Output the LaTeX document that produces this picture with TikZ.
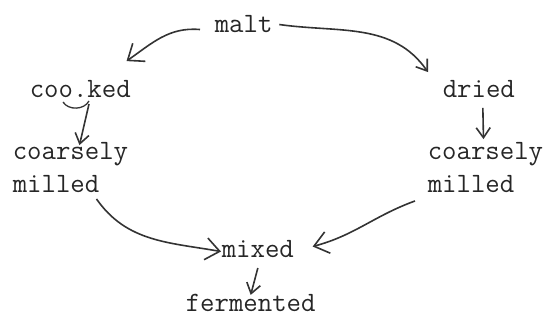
\documentclass[tikz,border=0pt]{standalone}
\usepackage{fontspec}
\usetikzlibrary{arrows.meta}
\tikzset{stage node/.style={font=\fontsize{28}{33}\selectfont\ttfamily,text=black!85,inner sep=2pt,anchor=base west},
	big tip/.style={-{Straight Barb[length=14pt,width=22pt]}},
}

\begin{document}
\begin{tikzpicture}[x=1pt,y=-1pt,line width=1.6pt,draw=black!80,>={Straight Barb[length=10pt,width=14pt]}]
	\useasboundingbox (0,0) rectangle (554,320);
	\node[stage node] (malt) at (212,33) {malt};
	\node[stage node] (cooked) at (27,98) {coo.ked};
	\node[stage node] (dried) at (440,98) {dried};
	\node[stage node,align=left] (millL) at (10,193) {coarsely\\milled};
	\node[stage node,align=left] (millR) at (425,193) {coarsely\\milled};
	\node[stage node] (mixed) at (219,258) {mixed};
	\node[stage node] (fermented) at (183,312) {fermented};
	
	% tie under coo.ked
	\draw[line width=1.3pt] ([shift={(36,4)}]cooked.base west) to[bend right=60] ([shift={(62,3)}]cooked.base west);
	
	\path[->]
	([shift={(-12,5)}]malt.west) edge[big tip,out=175,in=35] ([shift={(-7,-17)}]cooked.north east)
	([shift={(4,0)}]malt.east) edge[out=-8,in=125] ([shift={(-12,-6)}]dried.north west)
	([shift={(62,6)}]cooked.base west) edge ([shift={(9,5)}]millL.north)
	([shift={(4,7)}]dried.south) edge ([shift={(-2,-1)}]millR.north)
	([shift={(26,3)}]millL.south) edge[big tip,out=-55,in=170] ([shift={(2,2)}]mixed.west)
	([shift={(-10,5)}]millR.south west) edge[big tip,out=200,in=15] ([shift={(16,-3)}]mixed.east)
	([shift={(0,7)}]mixed.south) edge ([shift={(0,3)}]fermented.north);
\end{tikzpicture}
\end{document}
